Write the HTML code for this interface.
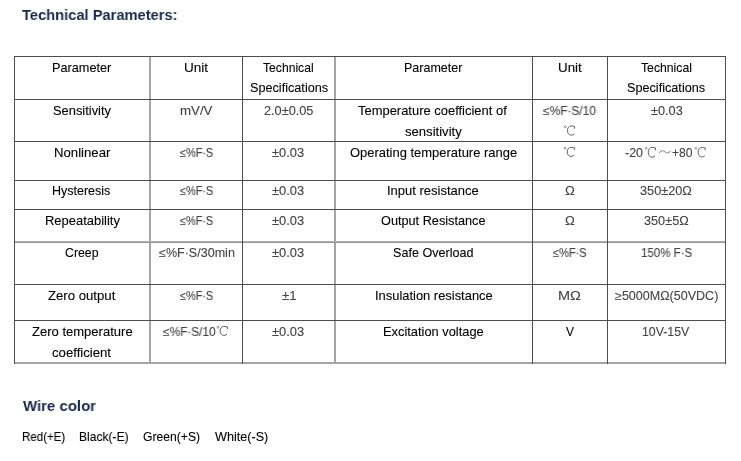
<!DOCTYPE html>
<html><head><meta charset="utf-8"><style>
html,body{margin:0;padding:0;background:#fff;width:741px;height:461px;overflow:hidden}
body{position:relative;font-family:"Liberation Sans",sans-serif}
.t{position:absolute;white-space:nowrap;transform-origin:0 0;will-change:transform;-webkit-text-stroke:0.1px currentColor}
svg{position:absolute;left:0;top:0}
</style></head><body>
<svg width="741" height="461" viewBox="0 0 741 461"><rect x="149" y="57" width="2" height="306" fill="#a5a5a5"/><rect x="334" y="57" width="2" height="306" fill="#a5a5a5"/><rect x="14" y="241" width="712" height="1" fill="#b0b0b0"/><rect x="14" y="242" width="712" height="1" fill="#959595"/><rect x="14" y="362" width="712" height="2" fill="#a5a5a5"/><rect x="14" y="56" width="712" height="1" fill="#4d4d4d"/><rect x="14" y="99" width="712" height="1" fill="#4d4d4d"/><rect x="14" y="141" width="712" height="1" fill="#4d4d4d"/><rect x="14" y="180" width="712" height="1" fill="#4d4d4d"/><rect x="14" y="209" width="712" height="1" fill="#4d4d4d"/><rect x="14" y="284" width="712" height="1" fill="#4d4d4d"/><rect x="14" y="320" width="712" height="1" fill="#4d4d4d"/><rect x="14" y="56" width="1" height="308" fill="#4d4d4d"/><rect x="242" y="56" width="1" height="308" fill="#4d4d4d"/><rect x="532" y="56" width="1" height="308" fill="#4d4d4d"/><rect x="607" y="56" width="1" height="308" fill="#4d4d4d"/><rect x="725" y="56" width="1" height="308" fill="#4d4d4d"/><circle cx="565.34" cy="126.75" r="0.94" fill="none" stroke="#5a5a5a" stroke-width="0.6"/><path d="M574.46 126.75 C573.77 126.02 572.58 125.87 571.20 125.87 C568.84 125.87 567.46 127.89 567.46 130.53 C567.46 133.27 568.94 135.13 571.20 135.13 C572.58 135.13 573.67 134.62 574.26 133.79" fill="none" stroke="#5a5a5a" stroke-width="0.95"/><path d="M574.61 126.02 L574.61 128.82" stroke="#5a5a5a" stroke-width="0.9"/><circle cx="565.06" cy="148.22" r="0.96" fill="none" stroke="#5a5a5a" stroke-width="0.6"/><path d="M574.44 148.22 C573.73 147.51 572.52 147.36 571.10 147.36 C568.66 147.36 567.24 149.34 567.24 151.93 C567.24 154.62 568.76 156.44 571.10 156.44 C572.52 156.44 573.63 155.94 574.24 155.12" fill="none" stroke="#5a5a5a" stroke-width="0.95"/><path d="M574.59 147.51 L574.59 150.25" stroke="#5a5a5a" stroke-width="0.9"/><circle cx="646.15" cy="148.31" r="0.95" fill="none" stroke="#5a5a5a" stroke-width="0.6"/><path d="M655.35 148.31 C654.66 147.55 653.46 147.39 652.07 147.39 C649.68 147.39 648.29 149.51 648.29 152.28 C648.29 155.16 649.78 157.11 652.07 157.11 C653.46 157.11 654.56 156.57 655.15 155.70" fill="none" stroke="#5a5a5a" stroke-width="0.95"/><path d="M655.50 147.55 L655.50 150.48" stroke="#5a5a5a" stroke-width="0.9"/><circle cx="695.98" cy="148.33" r="0.93" fill="none" stroke="#5a5a5a" stroke-width="0.6"/><path d="M705.06 148.33 C704.37 147.59 703.20 147.43 701.82 147.43 C699.47 147.43 698.09 149.50 698.09 152.20 C698.09 155.01 699.56 156.92 701.82 156.92 C703.20 156.92 704.28 156.39 704.87 155.54" fill="none" stroke="#5a5a5a" stroke-width="0.95"/><path d="M705.21 147.59 L705.21 150.45" stroke="#5a5a5a" stroke-width="0.9"/><circle cx="218.00" cy="327.30" r="0.95" fill="none" stroke="#5a5a5a" stroke-width="0.6"/><path d="M227.25 327.30 C226.55 326.60 225.35 326.45 223.95 326.45 C221.55 326.45 220.15 328.40 220.15 330.95 C220.15 333.60 221.65 335.40 223.95 335.40 C225.35 335.40 226.45 334.90 227.05 334.10" fill="none" stroke="#5a5a5a" stroke-width="0.95"/><path d="M227.40 326.60 L227.40 329.30" stroke="#5a5a5a" stroke-width="0.9"/><path d="M659.20 152.80 C661.54 150.30 663.30 150.30 665.05 151.85 S668.56 153.40 670.90 150.70" fill="none" stroke="#666" stroke-width="0.9"/></svg>
<div class="t" style="left:22.04px;top:6.98px;font-size:15.5px;line-height:15.5px;color:#172a48;font-weight:bold;transform:scaleX(0.9466);-webkit-text-stroke:0">Technical Parameters:</div>
<div class="t" style="left:51.76px;top:61.86px;font-size:12.1px;line-height:12.1px;color:#000;font-weight:normal;transform:scaleX(1.0507)">Parameter</div>
<div class="t" style="left:183.75px;top:61.86px;font-size:12.1px;line-height:12.1px;color:#000;font-weight:normal;transform:scaleX(1.1222)">Unit</div>
<div class="t" style="left:263.13px;top:61.86px;font-size:12.1px;line-height:12.1px;color:#000;font-weight:normal;transform:scaleX(1.0039)">Technical</div>
<div class="t" style="left:249.62px;top:82.36px;font-size:12.1px;line-height:12.1px;color:#000;font-weight:normal;transform:scaleX(1.0466)">Specifications</div>
<div class="t" style="left:404.07px;top:61.86px;font-size:12.1px;line-height:12.1px;color:#000;font-weight:normal;transform:scaleX(1.0345)">Parameter</div>
<div class="t" style="left:557.77px;top:61.86px;font-size:12.1px;line-height:12.1px;color:#000;font-weight:normal;transform:scaleX(1.1076)">Unit</div>
<div class="t" style="left:640.53px;top:61.86px;font-size:12.1px;line-height:12.1px;color:#000;font-weight:normal;transform:scaleX(1.0098)">Technical</div>
<div class="t" style="left:627.22px;top:82.36px;font-size:12.1px;line-height:12.1px;color:#000;font-weight:normal;transform:scaleX(1.0466)">Specifications</div>
<div class="t" style="left:52.91px;top:104.66px;font-size:12.1px;line-height:12.1px;color:#000;font-weight:normal;transform:scaleX(1.0650)">Sensitivity</div>
<div class="t" style="left:179.92px;top:104.66px;font-size:12.1px;line-height:12.1px;color:#444;font-weight:normal;transform:scaleX(1.0966)">mV/V</div>
<div class="t" style="left:263.96px;top:104.66px;font-size:12.1px;line-height:12.1px;color:#444;font-weight:normal;transform:scaleX(1.0524)">2.0±0.05</div>
<div class="t" style="left:358.21px;top:104.66px;font-size:12.1px;line-height:12.1px;color:#000;font-weight:normal;transform:scaleX(1.0705)">Temperature coefficient of</div>
<div class="t" style="left:405.04px;top:125.86px;font-size:12.1px;line-height:12.1px;color:#000;font-weight:normal;transform:scaleX(1.0828)">sensitivity</div>
<div class="t" style="left:543.43px;top:104.66px;font-size:12.1px;line-height:12.1px;color:#444;font-weight:normal;transform:scaleX(0.9855)">≤%F·S/10</div>
<div class="t" style="left:650.50px;top:104.66px;font-size:12.1px;line-height:12.1px;color:#444;font-weight:normal;transform:scaleX(1.0521)">±0.03</div>
<div class="t" style="left:53.72px;top:146.86px;font-size:12.1px;line-height:12.1px;color:#000;font-weight:normal;transform:scaleX(1.0890)">Nonlinear</div>
<div class="t" style="left:179.66px;top:146.86px;font-size:12.1px;line-height:12.1px;color:#444;font-weight:normal;transform:scaleX(0.9009)">≤%F·S</div>
<div class="t" style="left:272.39px;top:146.86px;font-size:12.1px;line-height:12.1px;color:#444;font-weight:normal;transform:scaleX(1.0658)">±0.03</div>
<div class="t" style="left:350.19px;top:146.86px;font-size:12.1px;line-height:12.1px;color:#000;font-weight:normal;transform:scaleX(1.0714)">Operating temperature range</div>
<div class="t" style="left:625.45px;top:146.86px;font-size:12.1px;line-height:12.1px;color:#444;font-weight:normal;transform:scaleX(1.0317)">-20</div>
<div class="t" style="left:671.61px;top:146.86px;font-size:12.1px;line-height:12.1px;color:#444;font-weight:normal;transform:scaleX(1.0020)">+80</div>
<div class="t" style="left:52.47px;top:185.36px;font-size:12.1px;line-height:12.1px;color:#000;font-weight:normal;transform:scaleX(1.0337)">Hysteresis</div>
<div class="t" style="left:179.66px;top:185.36px;font-size:12.1px;line-height:12.1px;color:#444;font-weight:normal;transform:scaleX(0.9009)">≤%F·S</div>
<div class="t" style="left:272.39px;top:185.36px;font-size:12.1px;line-height:12.1px;color:#444;font-weight:normal;transform:scaleX(1.0658)">±0.03</div>
<div class="t" style="left:387.40px;top:185.36px;font-size:12.1px;line-height:12.1px;color:#000;font-weight:normal;transform:scaleX(1.0732)">Input resistance</div>
<div class="t" style="left:565.34px;top:185.36px;font-size:12.1px;line-height:12.1px;color:#444;font-weight:normal;transform:scaleX(1.0859)">Ω</div>
<div class="t" style="left:640.42px;top:185.36px;font-size:12.1px;line-height:12.1px;color:#444;font-weight:normal;transform:scaleX(1.0506)">350±20Ω</div>
<div class="t" style="left:44.64px;top:214.96px;font-size:12.1px;line-height:12.1px;color:#000;font-weight:normal;transform:scaleX(1.0720)">Repeatability</div>
<div class="t" style="left:179.66px;top:214.96px;font-size:12.1px;line-height:12.1px;color:#444;font-weight:normal;transform:scaleX(0.9009)">≤%F·S</div>
<div class="t" style="left:272.39px;top:214.96px;font-size:12.1px;line-height:12.1px;color:#444;font-weight:normal;transform:scaleX(1.0658)">±0.03</div>
<div class="t" style="left:381.30px;top:214.96px;font-size:12.1px;line-height:12.1px;color:#000;font-weight:normal;transform:scaleX(1.0505)">Output Resistance</div>
<div class="t" style="left:565.34px;top:214.96px;font-size:12.1px;line-height:12.1px;color:#444;font-weight:normal;transform:scaleX(1.0859)">Ω</div>
<div class="t" style="left:643.52px;top:214.96px;font-size:12.1px;line-height:12.1px;color:#444;font-weight:normal;transform:scaleX(1.0499)">350±5Ω</div>
<div class="t" style="left:65.27px;top:247.06px;font-size:12.1px;line-height:12.1px;color:#000;font-weight:normal;transform:scaleX(1.0178)">Creep</div>
<div class="t" style="left:158.71px;top:247.06px;font-size:12.1px;line-height:12.1px;color:#444;font-weight:normal;transform:scaleX(1.0368)">≤%F·S/30min</div>
<div class="t" style="left:272.39px;top:247.06px;font-size:12.1px;line-height:12.1px;color:#444;font-weight:normal;transform:scaleX(1.0658)">±0.03</div>
<div class="t" style="left:393.43px;top:247.06px;font-size:12.1px;line-height:12.1px;color:#000;font-weight:normal;transform:scaleX(1.0405)">Safe Overload</div>
<div class="t" style="left:553.16px;top:247.06px;font-size:12.1px;line-height:12.1px;color:#444;font-weight:normal;transform:scaleX(0.9093)">≤%F·S</div>
<div class="t" style="left:640.82px;top:247.06px;font-size:12.1px;line-height:12.1px;color:#444;font-weight:normal;transform:scaleX(0.9499)">150% F·S</div>
<div class="t" style="left:48.18px;top:290.06px;font-size:12.1px;line-height:12.1px;color:#000;font-weight:normal;transform:scaleX(1.0878)">Zero output</div>
<div class="t" style="left:179.66px;top:290.06px;font-size:12.1px;line-height:12.1px;color:#444;font-weight:normal;transform:scaleX(0.9009)">≤%F·S</div>
<div class="t" style="left:281.78px;top:290.06px;font-size:12.1px;line-height:12.1px;color:#444;font-weight:normal;transform:scaleX(1.0891)">±1</div>
<div class="t" style="left:374.81px;top:290.06px;font-size:12.1px;line-height:12.1px;color:#000;font-weight:normal;transform:scaleX(1.0676)">Insulation resistance</div>
<div class="t" style="left:558.11px;top:290.06px;font-size:12.1px;line-height:12.1px;color:#444;font-weight:normal;transform:scaleX(1.1980)">MΩ</div>
<div class="t" style="left:614.60px;top:290.06px;font-size:12.1px;line-height:12.1px;color:#444;font-weight:normal;transform:scaleX(1.0364)">≥5000MΩ(50VDC)</div>
<div class="t" style="left:31.69px;top:326.06px;font-size:12.1px;line-height:12.1px;color:#000;font-weight:normal;transform:scaleX(1.0772)">Zero temperature</div>
<div class="t" style="left:52.44px;top:346.66px;font-size:12.1px;line-height:12.1px;color:#000;font-weight:normal;transform:scaleX(1.0877)">coefficient</div>
<div class="t" style="left:162.94px;top:326.06px;font-size:12.1px;line-height:12.1px;color:#444;font-weight:normal;transform:scaleX(0.9798)">≤%F·S/10</div>
<div class="t" style="left:272.39px;top:326.06px;font-size:12.1px;line-height:12.1px;color:#444;font-weight:normal;transform:scaleX(1.0658)">±0.03</div>
<div class="t" style="left:382.95px;top:326.06px;font-size:12.1px;line-height:12.1px;color:#000;font-weight:normal;transform:scaleX(1.0621)">Excitation voltage</div>
<div class="t" style="left:565.95px;top:326.06px;font-size:12.1px;line-height:12.1px;color:#000;font-weight:normal;transform:scaleX(0.9794)">V</div>
<div class="t" style="left:642.26px;top:326.06px;font-size:12.1px;line-height:12.1px;color:#444;font-weight:normal;transform:scaleX(1.0192)">10V-15V</div>
<div class="t" style="left:22.59px;top:398.38px;font-size:15.5px;line-height:15.5px;color:#172a48;font-weight:bold;transform:scaleX(0.9651);-webkit-text-stroke:0">Wire color</div>
<div class="t" style="left:22.05px;top:430.56px;font-size:12.1px;line-height:12.1px;color:#000;font-weight:normal;transform:scaleX(0.9530)">Red(+E)</div>
<div class="t" style="left:79.41px;top:430.56px;font-size:12.1px;line-height:12.1px;color:#000;font-weight:normal;transform:scaleX(0.9957)">Black(-E)</div>
<div class="t" style="left:143.19px;top:430.56px;font-size:12.1px;line-height:12.1px;color:#000;font-weight:normal;transform:scaleX(1.0042)">Green(+S)</div>
<div class="t" style="left:214.94px;top:430.56px;font-size:12.1px;line-height:12.1px;color:#000;font-weight:normal;transform:scaleX(1.0441)">White(-S)</div>
</body></html>
